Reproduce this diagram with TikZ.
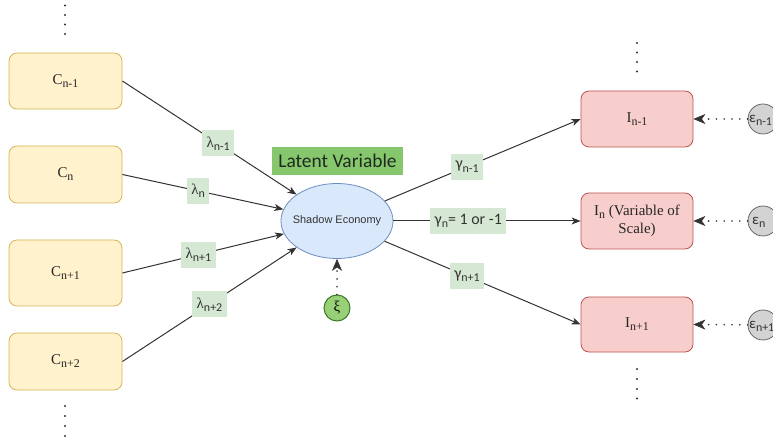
\documentclass[tikz,border=0pt]{standalone}
\usepackage{fontspec}
\setmainfont{Liberation Serif}
\newfontfamily\carl{Carlito}
\newfontfamily\arl{Liberation Sans}
\usetikzlibrary{arrows.meta,shapes.geometric}
\definecolor{yfill}{HTML}{FFF2CC}
\definecolor{ybord}{HTML}{D6B656}
\definecolor{pfill}{HTML}{F8CECC}
\definecolor{pbord}{HTML}{B85450}
\definecolor{efill}{HTML}{DAE8FC}
\definecolor{ebord}{HTML}{6C8EBF}
\definecolor{gfill}{HTML}{D5E8D4}
\definecolor{lvfill}{HTML}{86C66D}
\definecolor{lvtext}{HTML}{1E2A1E}
\definecolor{xifill}{HTML}{97D077}
\definecolor{xibord}{HTML}{3A7A28}
\definecolor{cfill}{HTML}{D3D3D3}
\definecolor{cbord}{HTML}{666666}
\definecolor{lncol}{HTML}{333333}
\newcommand{\sbx}[2][12]{\raisebox{-0.45ex}{\fontsize{#1}{#1}\selectfont #2}}
\begin{document}
\begin{tikzpicture}[x=1bp,y=-1bp,
  cbox/.style={draw=ybord, fill=yfill, rounded corners=8bp, minimum width=113bp, line width=0.8bp, inner sep=2bp, text=black!85, font=\fontsize{15}{17}\selectfont},
  ibox/.style={draw=pbord, fill=pfill, rounded corners=8bp, minimum width=112bp, line width=0.8bp, inner sep=2bp, text=black!85, font=\fontsize{15}{18}\selectfont},
  lab/.style={fill=gfill, inner xsep=4.5bp, inner ysep=0bp, minimum height=26bp, text=black!80},
  llab/.style={lab, font=\fontsize{15}{16}\selectfont},
  glab/.style={lab, font=\carl\fontsize{16}{16}\selectfont},
  conn/.style={draw=lncol, line width=1bp, -{Stealth[length=9bp,width=7bp,inset=2.5bp]}},
  dotc/.style={draw=lncol, line width=1.8bp, dash pattern=on 0pt off 7.8bp, line cap=round, -{Stealth[length=12bp,width=10bp,inset=3.5bp,line width=0.5bp]}},
  dotd/.style={fill=lncol},
  ecirc/.style={circle, draw=cbord, fill=cfill, line width=0.8bp, minimum size=30bp, inner sep=0pt},
  etext/.style={anchor=west, inner sep=0pt, text=black!80, font=\carl\fontsize{15}{15}\selectfont}
]
\useasboundingbox (0,0) rectangle (773,440);
\clip (0,0) rectangle (773,440);

% vertical ellipses
\foreach \y in {5.5,15,24.5,34} \fill[dotd] (65,\y) circle (1.2bp);
\foreach \y in {406,416,426,436} \fill[dotd] (65,\y) circle (1.2bp);
\foreach \y in {43,52.5,62,71.5} \fill[dotd] (637,\y) circle (1.2bp);
\foreach \y in {369,379,389,398.5} \fill[dotd] (637,\y) circle (1.2bp);

% left boxes
\node[cbox, minimum height=56bp] (c1) at (65.5,81) {C\sbx{n-1}};
\node[cbox, minimum height=57bp] (c2) at (65.5,174.5) {C\sbx{n}};
\node[cbox, minimum height=66bp] (c3) at (65.5,273) {C\sbx{n+1}};
\node[cbox, minimum height=57bp] (c4) at (65.5,361.5) {C\sbx{n+2}};

% latent
\node[ellipse, draw=ebord, fill=efill, line width=0.8bp, minimum width=112bp, minimum height=75bp, inner sep=0pt,
  label={[text=black!80, font=\arl\fontsize{11}{13}\selectfont]center:Shadow Economy}] (se) at (337,221) {};
\node[fill=lvfill, minimum width=131bp, minimum height=28bp, inner sep=0pt, text=lvtext, font=\carl\fontsize{19.5}{21}\selectfont] (lv) at (337.5,161) {Latent Variable};
\node[circle, draw=xibord, fill=xifill, line width=1bp, minimum size=26bp, inner sep=0pt, font=\fontsize{15}{15}\selectfont] (xi) at (337,308) {ξ};

% right boxes
\node[ibox, minimum height=56bp] (i1) at (637,119) {I\sbx{n-1}};
\node[ibox, minimum height=56bp, align=center] (i2) at (637,221) {I\sbx{n} (Variable of\\Scale)};
\node[ibox, minimum height=55bp] (i3) at (637,324.5) {I\sbx{n+1}};

% error circles
\node[ecirc] (e1) at (763,119) {};
\node[ecirc] (e2) at (763,221) {};
\node[ecirc] (e3) at (763,325) {};
\node[etext] (e1t) at (749,120) {ε\sbx[12]{n-1}};
\node[etext] (e2t) at (752,222) {ε\sbx[12]{n}};
\node[etext] (e3t) at (749,326) {ε\sbx[12]{n+1}};

% connectors in
\draw[conn] (c1.east) -- node[llab, pos=0.55] (l1) {λ\sbx{\carl n-1}} (se);
\draw[conn] (c2.east) -- node[llab, pos=0.47] (l2) {λ\sbx{\carl n}} (se);
\draw[conn] (c3.east) -- node[llab, pos=0.47] (l3) {λ\sbx{\carl n+1}} (se);
\draw[conn] (c4.east) -- node[llab, pos=0.5] (l4) {λ\sbx{\carl n+2}} (se);

% connectors out
\draw[conn] (se) -- node[glab, pos=0.42] (g1) {γ\sbx{n-1}} (i1.west);
\draw[conn] (se) -- node[glab, pos=0.4] (g2) {γ\sbx{n}= 1 or -1} (i2.west);
\draw[conn] (se) -- node[glab, pos=0.42] (g3) {γ\sbx{n+1}} (i3.west);

% dotted
\draw[dotc] (xi) -- (se);
\draw[dotc] (e1) -- (i1.east);
\draw[dotc] (e2) -- (i2.east);
\draw[dotc] (e3) -- (i3.east);
\end{tikzpicture}
\end{document}
